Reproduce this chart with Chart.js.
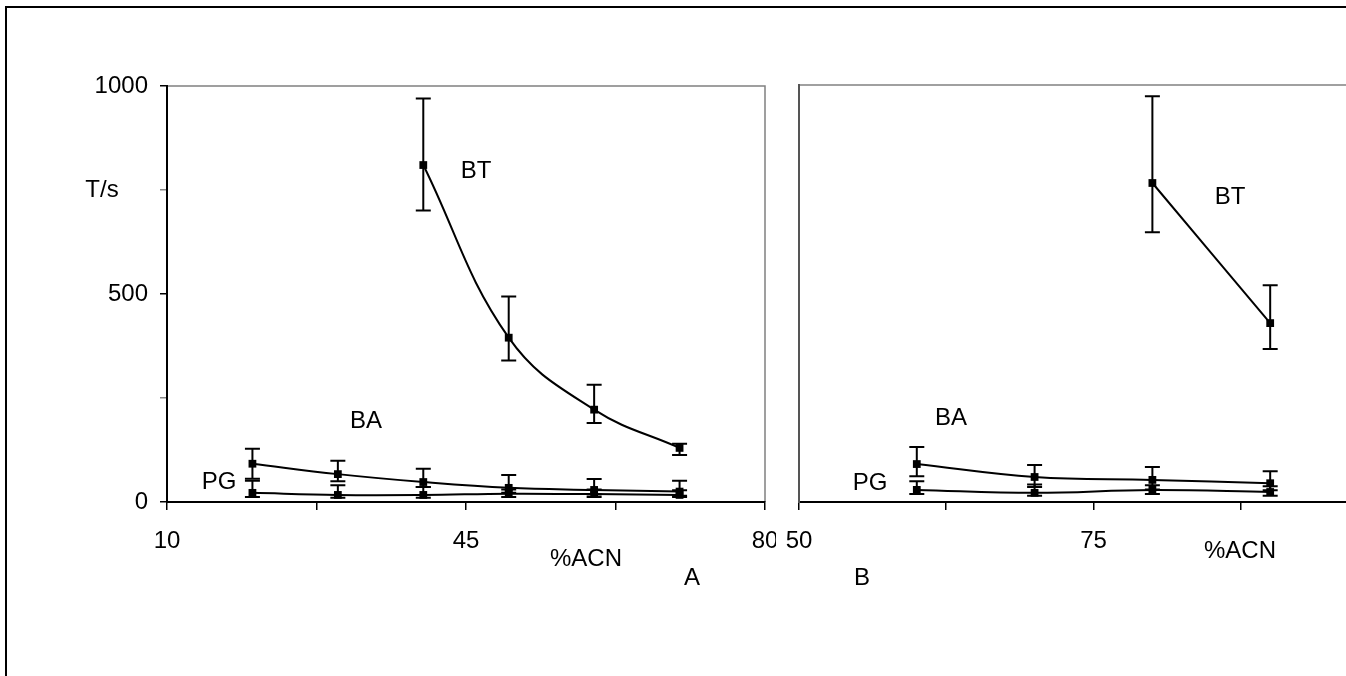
<!DOCTYPE html>
<html>
<head>
<meta charset="utf-8">
<script src="https://cdn.jsdelivr.net/npm/chart.js@4/dist/chart.umd.min.js"></script>
<style>
html,body{margin:0;padding:0;width:1346px;height:676px;overflow:hidden;background:#fff;}
canvas{position:absolute;top:0;}
#cA{left:0;z-index:1;}
#cB{left:759px;z-index:2;}
.lbl{position:absolute;z-index:3;font-family:"Liberation Sans",Arial,sans-serif;font-size:24px;color:#000;transform:translate(-50%,-50%);white-space:nowrap;line-height:1;}
#frame{position:absolute;left:5px;top:6px;width:2000px;height:2000px;border:2px solid #000;z-index:5;pointer-events:none;}
</style>
</head>
<body>
<canvas id="cA" width="800" height="676"></canvas>
<canvas id="cB" width="666" height="676"></canvas>
<div id="frame"></div>
<div class="lbl" style="left:102px;top:189px;">T/s</div>
<div class="lbl" style="left:476px;top:170px;">BT</div>
<div class="lbl" style="left:366px;top:420px;">BA</div>
<div class="lbl" style="left:219px;top:481px;">PG</div>
<div class="lbl" style="left:586px;top:558px;">%ACN</div>
<div class="lbl" style="left:692px;top:577px;">A</div>
<div class="lbl" style="left:1230px;top:196px;">BT</div>
<div class="lbl" style="left:951px;top:417px;">BA</div>
<div class="lbl" style="left:870px;top:482px;">PG</div>
<div class="lbl" style="left:1240px;top:550px;">%ACN</div>
<div class="lbl" style="left:862px;top:577px;">B</div>
<script>
// ---- Panel A (x = %ACN) ----
const xA = [20, 30, 40, 50, 60, 70];
const btA = [null, null, 810, 395, 222, 130];
const btAHi = [null, null, 970, 494, 282, 140];
const btALo = [null, null, 701, 340, 190, 113];
const baA = [92, 67, 48, 34, 29, 25];
const baAHi = [128, 99, 80, 65, 55, 51];
const baALo = [56, 50, 36, 22, 18, 15];
const pgA = [22, 17, 17, 20, 19, 17];
const pgAHi = [51, 40, 36, 30, 30, 28];
const pgALo = [12, 10, 10, 12, 12, 12];

// ---- Panel B ----
const xB = [60, 70, 80, 90];
const btB = [null, null, 765, 429];
const btBHi = [null, null, 973, 520];
const btBLo = [null, null, 647, 367];
const baB = [91, 60, 53, 45];
const baBHi = [132, 89, 84, 74];
const baBLo = [62, 36, 30, 28];
const pgB = [29, 22, 29, 24];
const pgBHi = [50, 42, 40, 38];
const pgBLo = [19, 15, 19, 15];

// tick labels
const yTickLabels = [0, 500, 1000];
const xTickLabelsA = [10, 45, 80];
const xTickLabelsB = [50, 75, 100];

Chart.defaults.font.family = '"Liberation Sans", Arial, sans-serif';
Chart.defaults.font.size = 24;
Chart.defaults.color = '#000';

function series(label, xs, ys, hi, lo) {
  const pts = [], h = [], l = [];
  xs.forEach((x, i) => {
    if (ys[i] != null) { pts.push({x: x, y: ys[i]}); h.push(hi[i]); l.push(lo[i]); }
  });
  return {
    label: label, data: pts, errHi: h, errLo: l,
    borderColor: '#000', backgroundColor: '#000', borderWidth: 2,
    pointStyle: 'rect', pointRadius: 5.5, pointBorderWidth: 0,
    tension: 0.4, fill: false
  };
}

const errorBars = {
  id: 'errorBars',
  beforeDatasetsDraw(chart) {
    const ctx = chart.ctx, ys = chart.scales.y;
    ctx.save();
    ctx.strokeStyle = '#000';
    ctx.lineWidth = 2;
    chart.data.datasets.forEach((ds, di) => {
      const meta = chart.getDatasetMeta(di);
      meta.data.forEach((pt, i) => {
        const yh = ys.getPixelForValue(ds.errHi[i]);
        const yl = ys.getPixelForValue(ds.errLo[i]);
        const x = pt.x;
        ctx.beginPath();
        ctx.moveTo(x, yh); ctx.lineTo(x, yl);
        ctx.moveTo(x - 7.5, yh); ctx.lineTo(x + 7.5, yh);
        ctx.moveTo(x - 7.5, yl); ctx.lineTo(x + 7.5, yl);
        ctx.stroke();
      });
    });
    ctx.restore();
  }
};

const panelFrame = {
  id: 'panelFrame',
  beforeDraw(chart, args, opts) {
    const ctx = chart.ctx, a = chart.chartArea;
    ctx.save();
    if (opts.bg) { ctx.fillStyle = opts.bg; ctx.fillRect(opts.bgFrom || 0, 0, chart.width, chart.height); }
    ctx.strokeStyle = '#808080';
    ctx.lineWidth = 1.5;
    ctx.beginPath();
    ctx.moveTo(a.left, a.top);
    ctx.lineTo(a.right, a.top);
    if (opts.right) ctx.lineTo(a.right, a.bottom);
    ctx.stroke();
    ctx.restore();
  }
};

new Chart(document.getElementById('cA'), {
  type: 'line',
  data: { datasets: [
    series('BT', xA, btA, btAHi, btALo),
    series('BA', xA, baA, baAHi, baALo),
    series('PG', xA, pgA, pgAHi, pgALo)
  ]},
  options: {
    responsive: false, animation: false, devicePixelRatio: 1,
    layout: { padding: { left: 0, top: 86, right: 35, bottom: 0 } },
    plugins: { legend: { display: false }, tooltip: { enabled: false },
      panelFrame: { right: true } },
    scales: {
      x: { type: 'linear', min: 10, max: 80,
        ticks: { stepSize: 17.5, autoSkip: false, maxRotation: 0, padding: 17,
          callback: v => xTickLabelsA.includes(v) ? String(v) : '' },
        grid: { drawOnChartArea: false, tickLength: 8, color: '#000', lineWidth: 1.5 },
        border: { color: '#000', width: 2 },
        afterFit: s => { s.height = 174; } },
      y: { type: 'linear', min: 0, max: 1000,
        ticks: { stepSize: 250, padding: 12,
          callback: v => yTickLabels.includes(v) ? String(v) : '' },
        grid: { drawOnChartArea: false, tickLength: 7, lineWidth: 1.5,
          color: c => (c.tick && yTickLabels.includes(c.tick.value)) ? '#000' : '#888' },
        border: { color: '#000', width: 2 },
        afterFit: s => { s.width = 167; } }
    }
  },
  plugins: [panelFrame, errorBars]
});

new Chart(document.getElementById('cB'), {
  type: 'line',
  data: { datasets: [
    series('BT', xB, btB, btBHi, btBLo),
    series('BA', xB, baB, baBHi, baBLo),
    series('PG', xB, pgB, pgBHi, pgBLo)
  ]},
  options: {
    responsive: false, animation: false, devicePixelRatio: 1,
    layout: { padding: { left: 0, top: 85, right: 29, bottom: 0 } },
    plugins: { legend: { display: false }, tooltip: { enabled: false },
      panelFrame: { right: false, bg: '#fff', bgFrom: 17 } },
    scales: {
      x: { type: 'linear', min: 50, max: 100,
        ticks: { stepSize: 12.5, autoSkip: false, maxRotation: 0, padding: 17,
          callback: v => xTickLabelsB.includes(v) ? String(v) : '' },
        grid: { drawOnChartArea: false, tickLength: 8, color: '#000', lineWidth: 1.5 },
        border: { color: '#000', width: 2 },
        afterFit: s => { s.height = 174; } },
      y: { type: 'linear', min: 0, max: 1000,
        ticks: { display: false, stepSize: 250 },
        grid: { display: false },
        border: { color: '#555', width: 2 },
        afterFit: s => { s.width = 40; } }
    }
  },
  plugins: [panelFrame, errorBars]
});
</script>
</body>
</html>
